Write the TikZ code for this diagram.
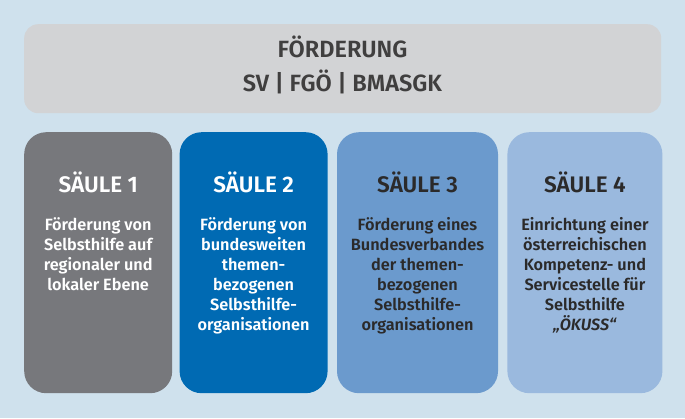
\documentclass[tikz,border=0pt]{standalone}
\usepackage{fontspec}
\setmainfont{Fira Sans}[BoldFont=* SemiBold,BoldItalicFont=* SemiBold Italic]
\usetikzlibrary{positioning}
\definecolor{hintergrund}{HTML}{CFE1ED}
\definecolor{kopfgrau}{HTML}{D2D3D5}
\definecolor{saeuleeins}{HTML}{77787C}
\definecolor{saeulezwei}{HTML}{006AB3}
\definecolor{saeuledrei}{HTML}{6B9ACD}
\definecolor{saeulevier}{HTML}{9AB9DE}
\definecolor{schrift}{HTML}{2B2A2A}

\begin{document}
\begin{tikzpicture}[x=1pt,y=-1pt,
  saeule/.style={rounded corners=22pt,minimum height=261pt,inner sep=0pt,anchor=north west},
  titel/.style={font=\bfseries\fontsize{22.5}{22.5}\selectfont,inner sep=0pt},
  inhalt/.style={font=\bfseries\fontsize{16.3}{20}\selectfont,align=center,inner sep=0pt}]
%\draw[help lines,step=10,dashed] (0,0) grid (685,418);
\fill[hintergrund] (0,0) rectangle (685,418);

\node[fill=kopfgrau,rounded corners=14pt,minimum width=637pt,minimum height=89pt,
  anchor=north west,inner sep=0pt] (kopf) at (24,24) {};
\node[font=\bfseries\fontsize{23.5}{34}\selectfont,text=schrift!90,align=center,
  anchor=base,inner sep=0pt] (foerderung) at (342.5,91)
  {FÖRDERUNG\\SV | FGÖ | BMASGK};

\node[saeule,fill=saeuleeins,minimum width=148pt] (s1) at (24,132) {};
\node[saeule,fill=saeulezwei,minimum width=148pt,right=7pt of s1] (s2) {};
\node[saeule,fill=saeuledrei,minimum width=161pt,right=9pt of s2] (s3) {};
\node[saeule,fill=saeulevier,minimum width=155pt,right=9pt of s3] (s4) {};

\node[titel,text=white,below=60pt of s1.north,anchor=base] (t1) {SÄULE 1};
\node[titel,text=white,below=60pt of s2.north,anchor=base] (t2) {SÄULE 2};
\node[titel,text=schrift,below=60pt of s3.north,anchor=base] (t3) {SÄULE 3};
\node[titel,text=schrift,below=60pt of s4.north,anchor=base] (t4) {SÄULE 4};

\node[inhalt,text=white,below=24pt of t1.base,anchor=north] (i1)
  {\strut Förderung von\\Selbsthilfe auf\\regionaler und\\lokaler Ebene};
\node[inhalt,text=white,below=24pt of t2.base,anchor=north] (i2)
  {\strut Förderung von\\bundesweiten\\themen-\\bezogenen\\Selbsthilfe-\\organisationen};
\node[inhalt,text=schrift,below=24pt of t3.base,anchor=north] (i3)
  {\strut Förderung eines\\Bundesverbandes\\der themen-\\bezogenen\\Selbsthilfe-\\organisationen};
\node[inhalt,text=schrift,below=24pt of t4.base,anchor=north] (i4)
  {\strut Einrichtung einer\\österreichischen\\Kompetenz- und\\Servicestelle für\\Selbsthilfe\\\textit{„ÖKUSS“}};
\end{tikzpicture}
\end{document}
